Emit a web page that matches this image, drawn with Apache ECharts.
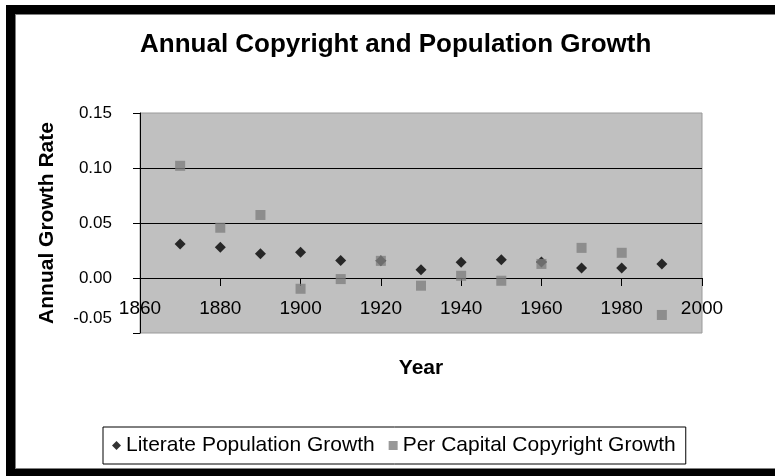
<!DOCTYPE html>
<html>
<head>
<meta charset="utf-8">
<style>
  html, body { margin: 0; padding: 0; background: #fff; }
  #chart { width: 775px; height: 476px; }
</style>
<script src="https://cdn.jsdelivr.net/npm/echarts@6/dist/echarts.min.js"></script>
</head>
<body>
<div id="chart"></div>
<script>
// Census years sampled
const years = [1870, 1880, 1890, 1900, 1910, 1920, 1930, 1940, 1950, 1960, 1970, 1980, 1990];
// Annual growth of the literate population
const literateGrowth = [0.031, 0.028, 0.022, 0.0235, 0.016, 0.0156, 0.0076, 0.0143, 0.0167, 0.0145, 0.0091, 0.0091, 0.0128];
// Annual growth of copyright registrations per capita
const copyrightGrowth = [0.102, 0.0457, 0.0573, -0.0098, -0.001, 0.0156, -0.007, 0.002, -0.0025, 0.0128, 0.0274, 0.0229, -0.0336];
// Axis ranges
const xTicks = { min: 1860, max: 2000, step: 20 };
const yTicks = { min: -0.05, max: 0.15, step: 0.05 };

const FONT = '"Liberation Sans", Arial, sans-serif';

// plot box
const GRID = { left: 140, top: 113, right: 73, bottom: 143 };
const PLOT_H = 476 - GRID.top - GRID.bottom;
// distance from the plot's bottom edge up to the zero line, so the year axis sits on y = 0
const zeroLift = PLOT_H * (0 - yTicks.min) / (yTicks.max - yTicks.min);

const chart = echarts.init(document.getElementById('chart'), null, { renderer: 'canvas' });

const pairs = arr => years.map((y, i) => [y, arr[i]]);

chart.setOption({
  animation: false,
  backgroundColor: '#ffffff',
  title: {
    text: 'Annual Copyright and Population Growth',
    left: 140,
    top: 32,
    padding: 0,
    textStyle: { fontFamily: FONT, fontSize: 26, fontWeight: 'bold', color: '#000' }
  },
  grid: Object.assign({}, GRID, {
    show: true,
    backgroundColor: '#c0c0c0',
    borderColor: '#9a9a9a',
    borderWidth: 1
  }),
  legend: {
    left: 103, top: 427,
    padding: [8, 10, 8, 9],
    itemGap: 14,
    itemWidth: 9, itemHeight: 9,
    borderColor: '#000', borderWidth: 1,
    backgroundColor: '#fff',
    textStyle: { fontFamily: FONT, fontSize: 21, color: '#000' },
    data: [
      { name: 'Literate Population Growth', icon: 'diamond', itemStyle: { color: '#000' } },
      { name: 'Per Capital Copyright Growth', icon: 'rect', itemStyle: { color: '#808080' } }
    ]
  },
  xAxis: {
    type: 'value',
    min: xTicks.min, max: xTicks.max, interval: xTicks.step,
    name: 'Year',
    nameLocation: 'middle',
    nameGap: 80,
    nameTextStyle: { fontFamily: FONT, fontSize: 21, fontWeight: 'bold', color: '#000' },
    offset: -zeroLift,
    axisLine: { onZero: false, lineStyle: { color: '#000', width: 1 } },
    axisTick: { show: true, length: 8, lineStyle: { color: '#000' } },
    axisLabel: {
      margin: 21,
      fontFamily: FONT, fontSize: 19, color: '#000',
      formatter: v => String(v)
    },
    splitLine: { show: false }
  },
  yAxis: {
    type: 'value',
    min: yTicks.min, max: yTicks.max, interval: yTicks.step,
    name: 'Annual Growth Rate',
    nameLocation: 'middle',
    nameRotate: 90,
    nameGap: 82,
    nameTextStyle: { fontFamily: FONT, fontSize: 21, fontWeight: 'bold', color: '#000' },
    axisLine: { show: true, onZero: false, lineStyle: { color: '#000', width: 1 } },
    axisTick: { show: true, length: 7, lineStyle: { color: '#000' } },
    axisLabel: {
      margin: 28,
      fontFamily: FONT, fontSize: 17, color: '#000',
      formatter: v => {
        const s = v.toFixed(2);
        return Math.abs(v - yTicks.min) < 1e-9 ? '{low|' + s + '}' : s;
      },
      rich: {
        low: { fontFamily: FONT, fontSize: 17, color: '#000', padding: [0, 0, 30, 0] }
      }
    },
    splitLine: {
      show: true,
      lineStyle: { color: ['rgba(0,0,0,0)', '#000', '#000', '#000', 'rgba(0,0,0,0)'], width: 1 }
    }
  },
  series: [
    {
      name: 'Literate Population Growth',
      type: 'scatter',
      symbol: 'diamond',
      symbolSize: 11,
      itemStyle: { color: '#000' },
      data: pairs(literateGrowth),
      z: 2
    },
    {
      name: 'Per Capital Copyright Growth',
      type: 'scatter',
      symbol: 'rect',
      symbolSize: 10,
      itemStyle: { color: '#808080' },
      data: pairs(copyrightGrowth),
      z: 3
    }
  ],
  graphic: [
    // heavy frame around the chart area
    { type: 'rect', shape: { x: 6, y: 5, width: 769, height: 9 }, style: { fill: '#000' }, silent: true },
    { type: 'rect', shape: { x: 6, y: 5, width: 9, height: 471 }, style: { fill: '#000' }, silent: true },
    { type: 'rect', shape: { x: 6, y: 469, width: 769, height: 7 }, style: { fill: '#000' }, silent: true },
    { type: 'rect', shape: { x: 15, y: 14, width: 760, height: 1 }, style: { fill: '#808080' }, silent: true },
    { type: 'rect', shape: { x: 15, y: 14, width: 1, height: 455 }, style: { fill: '#808080' }, silent: true },
    { type: 'rect', shape: { x: 15, y: 468, width: 760, height: 1 }, style: { fill: '#808080' }, silent: true }
  ]
});
</script>
</body>
</html>
